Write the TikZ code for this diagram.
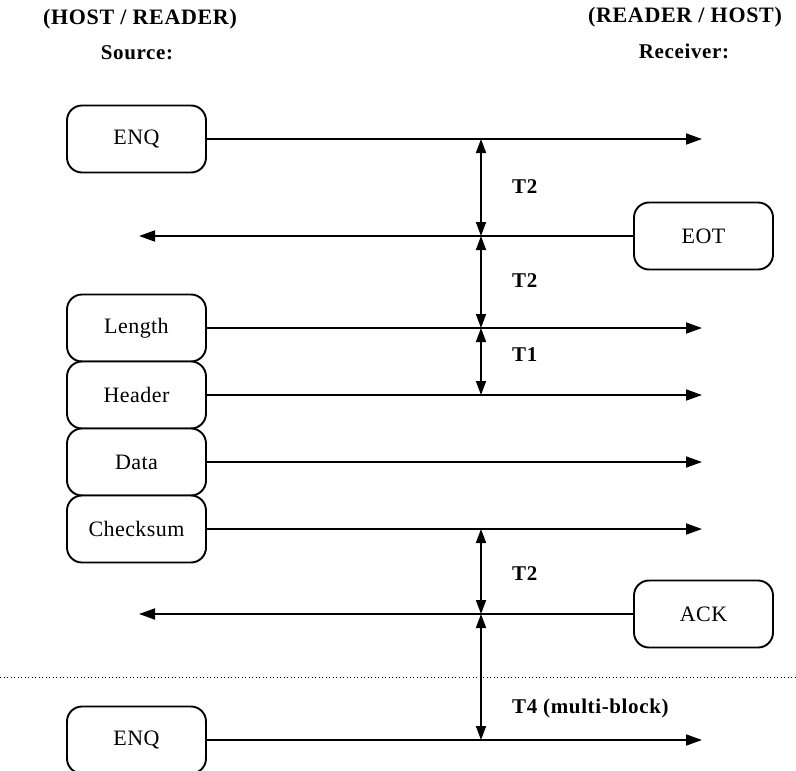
\documentclass[tikz,border=0pt]{standalone}
\usepackage{fontspec}
\setmainfont{Liberation Serif}
\newfontfamily\boxfont[LetterSpace=2]{Liberation Serif}
\newfontfamily\hdrfont[LetterSpace=3]{Liberation Serif}
\usetikzlibrary{arrows.meta}
\tikzset{
  msgbox/.style={draw, line width=1.9pt, rounded corners=15pt, minimum width=139pt,
    minimum height=67pt, inner sep=0pt, fill=white, font=\boxfont\fontsize{22}{26}\selectfont},
  sendarr/.style={line width=1.8pt, -{Triangle[length=16pt,width=11pt]}},
  timearr/.style={line width=1.8pt, {Triangle[length=14pt,width=10pt]}-{Triangle[length=14pt,width=10pt]}},
  timelbl/.style={anchor=west, inner sep=0pt, font=\hdrfont\bfseries\fontsize{21}{25}\selectfont},
  hdr/.style={inner sep=0pt, font=\hdrfont\bfseries\fontsize{22}{26}\selectfont},
  sub/.style={inner sep=0pt, font=\hdrfont\bfseries\fontsize{21}{25}\selectfont},
  sep/.style={line width=1pt, dash pattern=on 1.2pt off 2.3pt}
}
\begin{document}
\begin{tikzpicture}[x=1pt,y=-1pt]
\useasboundingbox (0,0) rectangle (796,771);
\clip (0,0) rectangle (796,771);

% headers
\node[hdr] (h1) at (140,19) {(HOST / READER)};
\node[sub] (s1) at (137,53) {Source:};
\node[hdr] (h2) at (685,17) {(READER / HOST)};
\node[sub] (s2) at (684,51) {Receiver:};

% separator
\coordinate (dl) at (0,677);
\coordinate (dr) at (796,677);
\draw[sep] (dl) -- (dr);

% boxes
\node[msgbox] (enq1) at (136.5,139) {ENQ};
\node[msgbox] (eot) at (703.5,236) {EOT};
\node[msgbox] (len) at (136.5,328) {Length};
\node[msgbox] (hdrb) at (136.5,395) {Header};
\node[msgbox] (dat) at (136.5,462) {Data};
\node[msgbox] (chk) at (136.5,529) {Checksum};
\node[msgbox] (ack) at (703.5,614) {ACK};
\node[msgbox] (enq2) at (136.5,740) {ENQ};

% arrow end points
\coordinate (r1) at (702,139);
\coordinate (l2) at (139,236);
\coordinate (r3) at (702,328);
\coordinate (r4) at (702,395);
\coordinate (r5) at (702,462);
\coordinate (r6) at (702,529);
\coordinate (l7) at (139,614);
\coordinate (r8) at (702,740);

\draw[sendarr] (enq1.east) -- (r1);
\draw[sendarr] (eot.west) -- (l2);
\draw[sendarr] (len.east) -- (r3);
\draw[sendarr] (hdrb.east) -- (r4);
\draw[sendarr] (dat.east) -- (r5);
\draw[sendarr] (chk.east) -- (r6);
\draw[sendarr] (ack.west) -- (l7);
\draw[sendarr] (enq2.east) -- (r8);

% timing arrows
\coordinate (v1) at (481,139);
\coordinate (v2) at (481,236);
\coordinate (v3) at (481,328);
\coordinate (v4) at (481,395);
\coordinate (v6) at (481,529);
\coordinate (v7) at (481,614);
\coordinate (v8) at (481,740);
\draw[timearr] (v1) -- (v2);
\draw[timearr] (v2) -- (v3);
\draw[timearr] (v3) -- (v4);
\draw[timearr] (v6) -- (v7);
\draw[timearr] (v7) -- (v8);

\node[timelbl] (t1) at (512,187) {T2};
\node[timelbl] (t2) at (512,281) {T2};
\node[timelbl] (t3) at (512,355) {T1};
\node[timelbl] (t4) at (512,574) {T2};
\node[timelbl] (t5) at (512,708) {T4 (multi-block)};
\end{tikzpicture}
\end{document}
